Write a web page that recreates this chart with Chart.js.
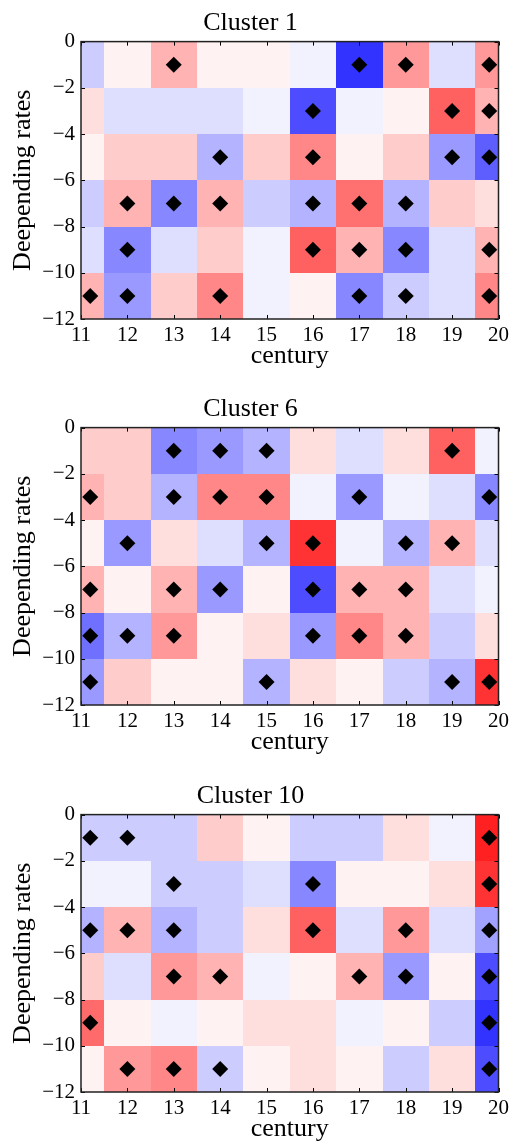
<!DOCTYPE html>
<html>
<head>
<meta charset="utf-8">
<script src="https://cdn.jsdelivr.net/npm/chart.js@4"></script>
<style>
  body { margin: 0; background: #fff; }
  .panel { position: absolute; left: 0; width: 513px; height: 372px; }
</style>
</head>
<body>
<div class="panel" style="top:0px"><canvas id="chart1" width="513" height="372"></canvas></div>
<div class="panel" style="top:386px"><canvas id="chart6" width="513" height="372"></canvas></div>
<div class="panel" style="top:773px"><canvas id="chart10" width="513" height="372"></canvas></div>
<script>
const centuries = [11, 12, 13, 14, 15, 16, 17, 18, 19, 20];
const markerCenturies = [11.2, 12, 13, 14, 15, 16, 17, 18, 19, 19.8];
const rateBins = [[0, -2], [-2, -4], [-4, -6], [-6, -8], [-8, -10], [-10, -12]];
const rateCenters = [-1, -3, -5, -7, -9, -11];
const xTicks = [11, 12, 13, 14, 15, 16, 17, 18, 19, 20];
const yTicks = [0, -2, -4, -6, -8, -10, -12];

// cell values (-1 blue .. 1 red), rows top to bottom
const cluster1Values = [
  [-0.2, 0.05, 0.3, 0.05, 0.05, -0.05, -0.8, 0.4, -0.13, 0.4],
  [0.13, -0.13, -0.13, -0.13, -0.05, -0.7, -0.05, 0.05, 0.62, 0.3],
  [0.05, 0.2, 0.2, -0.3, 0.2, 0.47, 0.05, 0.2, -0.4, -0.63],
  [-0.2, 0.3, -0.47, 0.3, -0.2, -0.3, 0.56, -0.3, 0.2, 0.13],
  [-0.13, -0.47, -0.13, 0.2, -0.05, 0.62, 0.3, -0.47, -0.13, 0.3],
  [0.3, -0.4, 0.2, 0.47, -0.05, 0.05, -0.47, -0.2, -0.13, 0.47]
];
const cluster1Marks = [
  [0, 0, 1, 0, 0, 0, 1, 1, 0, 1],
  [0, 0, 0, 0, 0, 1, 0, 0, 1, 1],
  [0, 0, 0, 1, 0, 1, 0, 0, 1, 1],
  [0, 1, 1, 1, 0, 1, 1, 1, 0, 0],
  [0, 1, 0, 0, 0, 1, 1, 1, 0, 1],
  [1, 1, 0, 1, 0, 0, 1, 1, 0, 1]
];

const cluster6Values = [
  [0.2, 0.2, -0.47, -0.4, -0.3, 0.13, -0.13, 0.13, 0.62, -0.05],
  [0.3, 0.2, -0.3, 0.47, 0.47, -0.05, -0.4, -0.05, -0.13, -0.47],
  [0.05, -0.4, 0.13, -0.13, -0.3, 0.8, -0.05, -0.3, 0.3, -0.13],
  [0.3, 0.05, 0.3, -0.4, 0.05, -0.7, 0.3, 0.3, -0.13, -0.05],
  [-0.56, -0.3, 0.4, 0.05, 0.13, -0.4, 0.47, 0.3, -0.2, 0.13],
  [-0.4, 0.2, 0.05, 0.05, -0.3, 0.13, 0.05, -0.2, -0.3, 0.8]
];
const cluster6Marks = [
  [0, 0, 1, 1, 1, 0, 0, 0, 1, 0],
  [1, 0, 1, 1, 1, 0, 1, 0, 0, 1],
  [0, 1, 0, 0, 1, 1, 0, 1, 1, 0],
  [1, 0, 1, 1, 0, 1, 1, 1, 0, 0],
  [1, 1, 1, 0, 0, 1, 1, 1, 0, 0],
  [1, 0, 0, 0, 1, 0, 0, 0, 1, 1]
];

const cluster10Values = [
  [-0.2, -0.2, -0.2, 0.2, 0.05, -0.2, -0.2, 0.13, -0.05, 0.87],
  [-0.05, -0.05, -0.2, -0.2, -0.13, -0.47, 0.05, 0.05, 0.13, 0.8],
  [-0.3, 0.3, -0.3, -0.2, 0.13, 0.62, -0.13, 0.4, -0.13, -0.37],
  [0.2, -0.13, 0.4, 0.3, -0.05, 0.05, 0.3, -0.4, 0.05, -0.7],
  [0.58, 0.05, -0.05, 0.05, 0.13, 0.13, -0.05, 0.05, -0.2, -0.8],
  [0.05, 0.4, 0.47, -0.2, 0.05, 0.13, 0.05, -0.2, 0.13, -0.7]
];
const cluster10Marks = [
  [1, 1, 0, 0, 0, 0, 0, 0, 0, 1],
  [0, 0, 1, 0, 0, 1, 0, 0, 0, 1],
  [1, 1, 1, 0, 0, 1, 0, 1, 0, 1],
  [0, 0, 1, 1, 0, 0, 1, 1, 0, 1],
  [1, 0, 0, 0, 0, 0, 0, 0, 0, 1],
  [0, 1, 1, 1, 0, 0, 0, 0, 0, 1]
];

const FONT = '"Liberation Serif", "DejaVu Serif", serif';

// matplotlib bwr colormap
const bwr = (v) => {
  if (v < 0) {
    const t = Math.round(255 * (1 + v));
    return `rgb(${t},${t},255)`;
  }
  const t = Math.round(255 * (1 - v));
  return `rgb(255,${t},${t})`;
};

const heatmapPlugin = {
  id: "heatmap",
  beforeDatasetsDraw(chart, args, opts) {
    const { ctx, scales: { x, y } } = chart;
    ctx.save();
    opts.values.forEach((row, r) => {
      row.forEach((v, c) => {
        const cen = centuries[c];
        const x0 = Math.round(x.getPixelForValue(Math.max(x.min, cen - 0.5)));
        const x1 = Math.round(x.getPixelForValue(Math.min(x.max, cen + 0.5)));
        const y0 = Math.round(y.getPixelForValue(rateBins[r][0]));
        const y1 = Math.round(y.getPixelForValue(rateBins[r][1]));
        ctx.fillStyle = bwr(v);
        ctx.fillRect(x0, y0, x1 - x0, y1 - y0);
      });
    });
    ctx.restore();
  },
  afterDatasetsDraw(chart) {
    const { ctx, chartArea: a, scales: { x, y } } = chart;
    ctx.save();
    ctx.strokeStyle = "#000";
    ctx.lineWidth = 1;
    const len = 4;
    ctx.beginPath();
    xTicks.forEach((t) => {
      const px = Math.round(x.getPixelForValue(t)) + 0.5;
      ctx.moveTo(px, a.bottom); ctx.lineTo(px, a.bottom - len);
      ctx.moveTo(px, a.top); ctx.lineTo(px, a.top + len);
    });
    yTicks.forEach((t) => {
      const py = Math.round(y.getPixelForValue(t)) + 0.5;
      ctx.moveTo(a.left, py); ctx.lineTo(a.left + len, py);
      ctx.moveTo(a.right, py); ctx.lineTo(a.right - len, py);
    });
    ctx.stroke();
    ctx.strokeStyle = "#222";
    ctx.lineWidth = 1.5;
    ctx.strokeRect(a.left, a.top, a.right - a.left, a.bottom - a.top);
    ctx.restore();
  }
};

const makeChart = (id, title, values, marks) => {
  const points = [];
  marks.forEach((row, r) => {
    row.forEach((m, c) => {
      if (m) points.push({ x: markerCenturies[c], y: rateCenters[r] });
    });
  });

  new Chart(document.getElementById(id).getContext("2d"), {
    type: "scatter",
    data: {
      datasets: [
        {
          data: points,
          pointStyle: "rectRot",
          pointRadius: 8,
          backgroundColor: "#000",
          borderColor: "#000",
          borderWidth: 0,
        },
      ],
    },
    options: {
      responsive: false,
      animation: false,
      events: [],
      layout: { padding: { left: 0, right: 12, top: 0, bottom: 0 } },
      plugins: {
        legend: { display: false },
        tooltip: { enabled: false },
        title: {
          display: true,
          text: title,
          color: "#000",
          font: { family: FONT, size: 26, weight: "normal", lineHeight: 1.1 },
          padding: { top: 9, bottom: 4 },
        },
        heatmap: { values: values },
      },
      scales: {
        x: {
          type: "linear",
          min: 11,
          max: 20,
          grid: { display: false, drawTicks: false },
          border: { display: false },
          afterFit: (s) => { s.height = 53; },
          ticks: {
            stepSize: 1,
            color: "#000",
            padding: 4,
            maxRotation: 0,
            font: { family: FONT, size: 21 },
          },
          title: {
            display: true,
            text: "century",
            color: "#000",
            font: { family: FONT, size: 26, lineHeight: 1.1 },
            padding: { top: 0, bottom: 2 },
          },
        },
        y: {
          type: "linear",
          min: -12,
          max: 0,
          grid: { display: false, drawTicks: false },
          border: { display: false },
          afterFit: (s) => { s.width = 81; },
          ticks: {
            stepSize: 2,
            color: "#000",
            padding: 6,
            font: { family: FONT, size: 21 },
            callback: (v) => (v < 0 ? "\u2212" + Math.abs(v) : String(v)),
          },
          title: {
            display: true,
            text: "Deepending rates",
            color: "#000",
            font: { family: FONT, size: 26, lineHeight: 1.1 },
            padding: { top: 9, bottom: 0 },
          },
        },
      },
    },
    plugins: [heatmapPlugin],
  });
};

makeChart("chart1", "Cluster 1", cluster1Values, cluster1Marks);
makeChart("chart6", "Cluster 6", cluster6Values, cluster6Marks);
makeChart("chart10", "Cluster 10", cluster10Values, cluster10Marks);
</script>
</body>
</html>
